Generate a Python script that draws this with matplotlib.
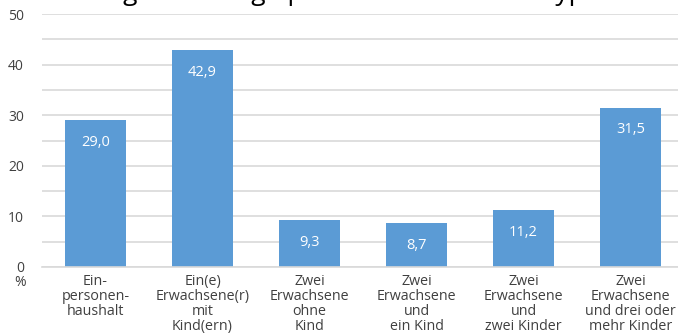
import numpy as np
import matplotlib as mpl
import matplotlib.pyplot as plt
from matplotlib.ticker import MultipleLocator

mpl.use('Agg')
plt.rcParams['font.family'] = ['Open Sans', 'DejaVu Sans']

# Haushaltstypen und Quoten in %
kategorien = [
    'Ein-\npersonen-\nhaushalt',
    'Ein(e)\nErwachsene(r)\nmit\nKind(ern)',
    'Zwei\nErwachsene\nohne\nKind',
    'Zwei\nErwachsene\nund\nein Kind',
    'Zwei\nErwachsene\nund\nzwei Kinder',
    'Zwei\nErwachsene\nund drei oder\nmehr Kinder',
]
werte = [29.0, 42.9, 9.3, 8.7, 11.2, 31.5]
titel = 'Armutsgefährdungsquote nach Haushaltstyp'

blau = '#5b9bd5'
grau = '#d9d9d9'
text_farbe = '#404040'

fig = plt.figure(figsize=(6.78, 3.35), dpi=100)
ax = fig.add_axes([0.062, 0.203, 0.947, 0.755])

x = np.arange(len(werte))
ax.bar(x, werte, width=0.57, color=blau, zorder=2)

for xi, w in zip(x, werte):
    ax.annotate(f'{w:.1f}'.replace('.', ','), (xi, w), xytext=(0, -16),
                textcoords='offset points', ha='center', va='center',
                color='white', fontsize=10.5)

ax.set_xlim(-0.5, 5.5)
ax.set_ylim(0, 50)
ax.yaxis.set_major_locator(MultipleLocator(10))
ax.yaxis.set_minor_locator(MultipleLocator(5))
ax.grid(axis='y', which='both', color=grau, linewidth=1.2, zorder=0)
ax.set_axisbelow(True)

for s in ['top', 'right', 'left']:
    ax.spines[s].set_visible(False)
ax.spines['bottom'].set_color(grau)
ax.spines['bottom'].set_linewidth(1.2)

ax.set_xticks(x)
ax.set_xticklabels(kategorien, fontsize=10.3, color=text_farbe, linespacing=1.0)
ax.tick_params(axis='x', length=0, pad=5)
ax.tick_params(axis='y', which='both', length=0, pad=13, labelsize=10,
               labelcolor=text_farbe)

ax.text(-0.0335, -0.062, '%', transform=ax.transAxes, ha='center', va='center',
        fontsize=10, color=text_farbe)

# Titel oberhalb des Zeichenbereichs, nur Unterlängen sichtbar
fig.text(33 / 678, 1.0, titel, ha='left', va='baseline', fontsize=19, color='black')

fig.savefig('out.png', dpi=100)
